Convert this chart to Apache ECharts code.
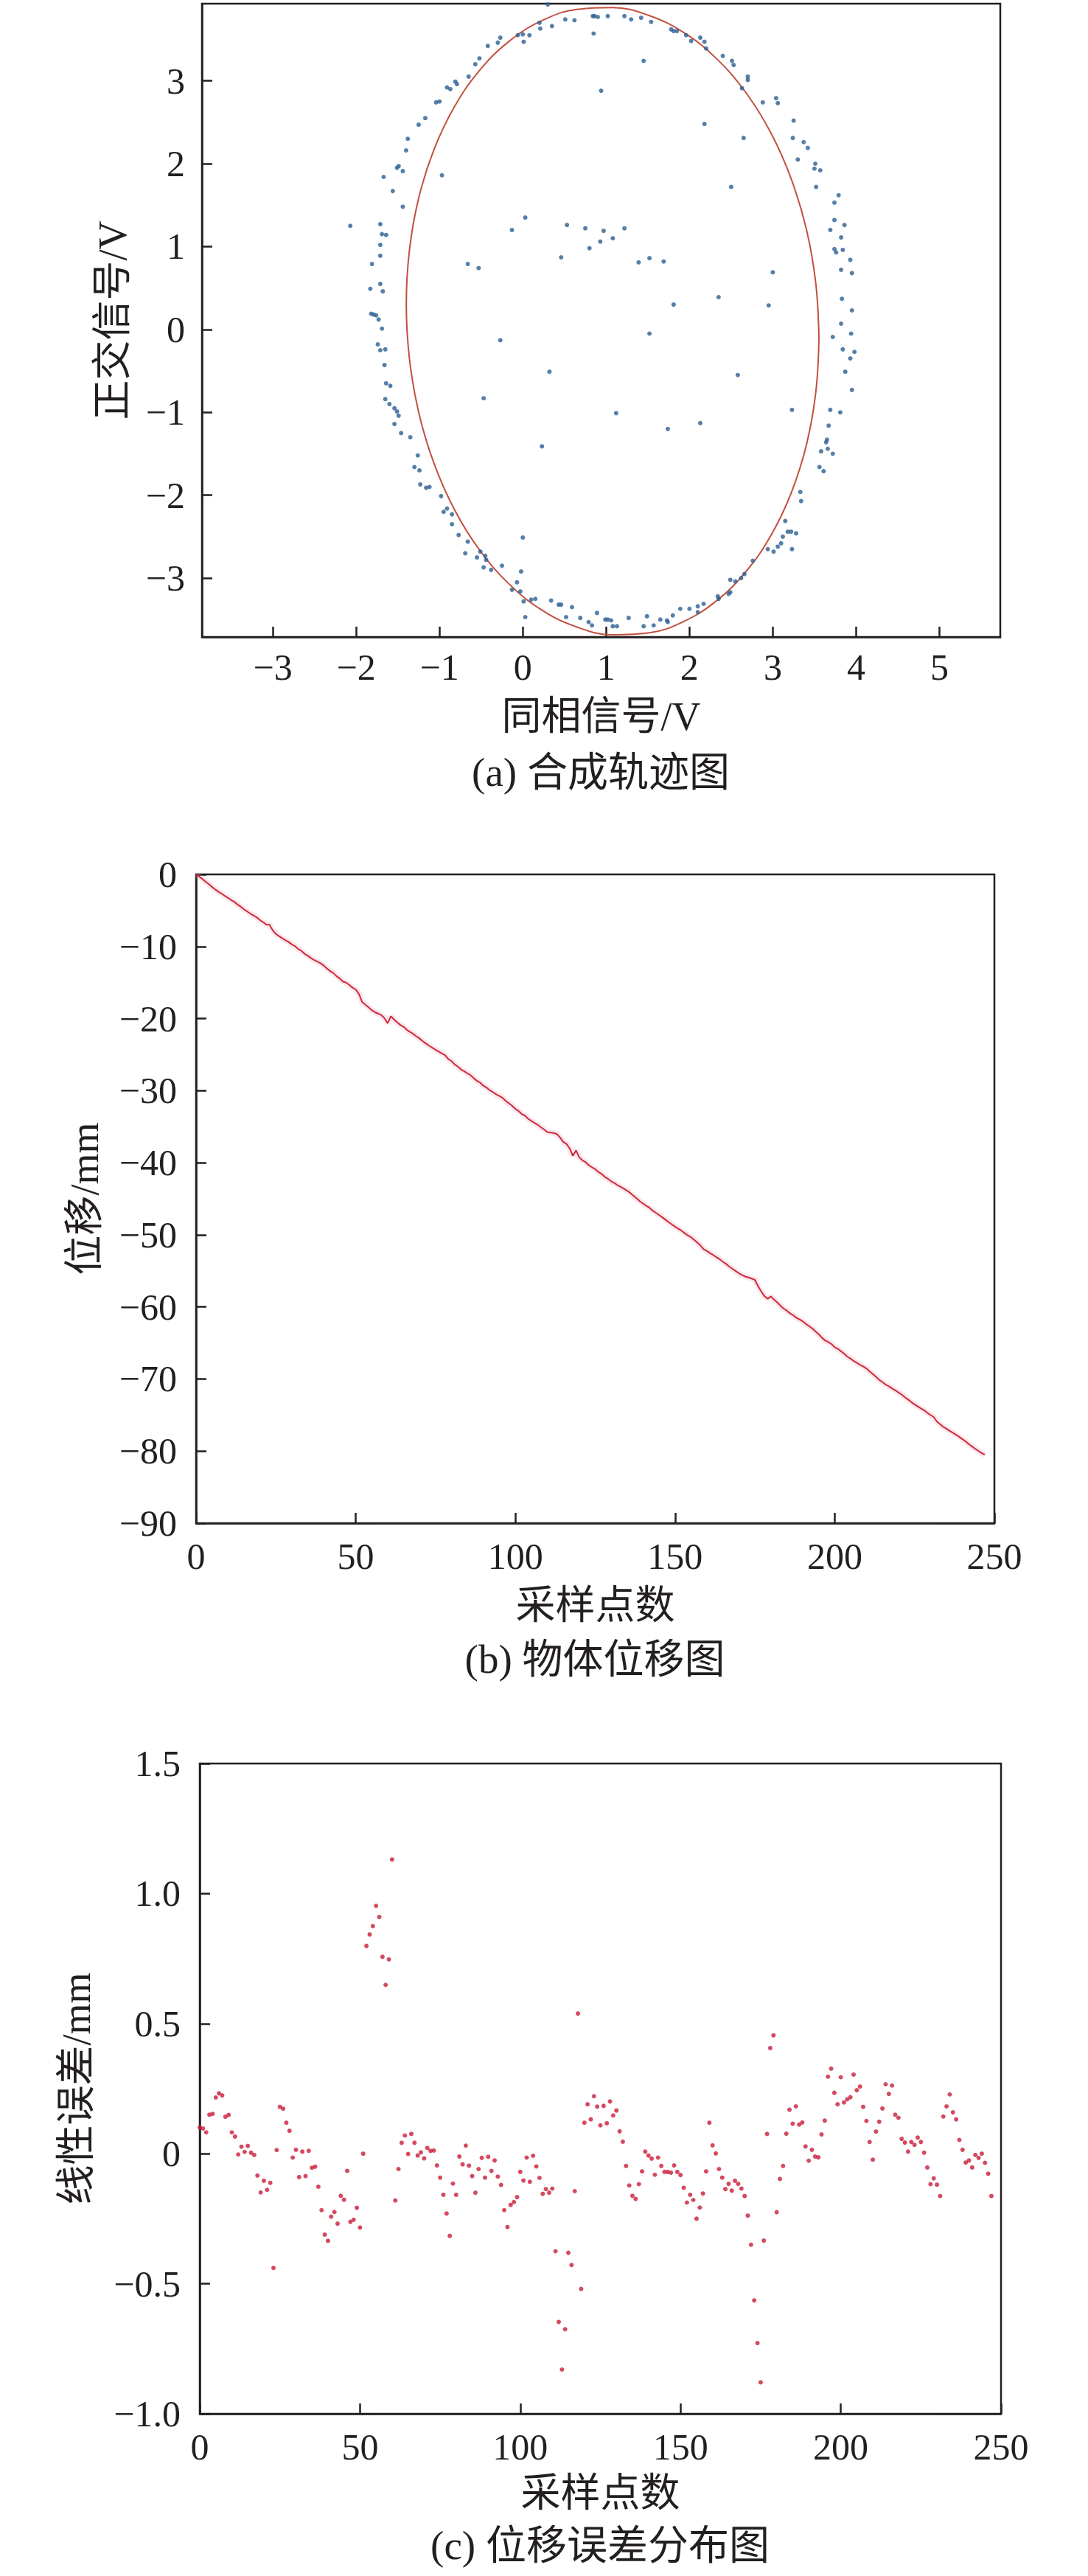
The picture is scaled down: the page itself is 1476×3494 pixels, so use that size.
<!DOCTYPE html>
<html>
<head>
<meta charset="utf-8">
<script src="https://cdn.jsdelivr.net/npm/echarts@6/dist/echarts.min.js"></script>
<style>
html,body{margin:0;padding:0;background:#fff;}
#chart{width:1476px;height:3494px;}
</style>
</head>
<body>
<div id="chart"></div>
<script>
// ---------- (a) Lissajous trajectory: in-phase (x) / quadrature (y) samples ----------
const inPhase = [
0.30,0.51,0.62,0.35,0.20,0.21,0.08,0.00,-0.06,0.01,-0.27,-0.30,-0.42,-0.52,-0.57,-0.65,-0.81,-0.79,-0.91,-0.87,
-1.00,-1.04,-1.17,-1.25,-1.38,-1.40,-1.49,-1.51,-1.44,-1.67,-0.97,-1.56,-1.44,-2.07,-1.71,-1.69,-1.64,-1.71,-1.71,-1.81,
-1.71,-1.83,-1.68,-1.82,-1.79,-1.76,-1.73,-1.69,-1.74,-1.71,-1.65,-1.66,-1.64,-1.59,-1.65,-1.60,-1.54,-1.51,-1.49,-1.54,
-1.46,-1.35,0.03,-0.13,0.53,0.46,-0.66,-0.53,-0.27,0.32,-0.47,
0.84,0.86,0.90,1.02,1.22,1.30,1.42,1.54,0.85,1.78,1.81,1.85,1.96,2.02,2.13,2.18,2.20,2.40,2.51,2.53,
2.70,2.70,2.63,2.88,3.04,3.06,1.45,0.94,3.25,2.18,2.65,3.24,3.37,3.42,3.30,3.51,3.50,3.57,3.52,2.50,
3.79,3.74,3.74,3.86,3.69,3.82,3.74,3.76,3.84,3.93,3.82,3.95,3.00,3.83,3.95,3.82,3.72,3.94,3.84,3.98,
3.93,3.87,3.95,3.69,3.81,3.67,3.65,
0.75,0.97,1.22,0.93,1.08,0.80,1.39,1.52,1.69,2.35,1.81,2.95,1.52,2.58,3.23,1.12,2.13,1.74,
0.23,-1.26,-1.30,-1.24,-1.23,-1.16,-1.12,-0.98,-0.95,-0.91,-0.85,-0.85,-0.77,-0.66,0.00,-0.69,-0.55,-0.51,-0.45,-0.44,
-0.47,-0.38,-0.25,-0.02,-0.07,-0.13,-0.03,0.01,0.10,0.15,0.03,0.34,0.43,0.46,0.59,0.52,0.69,
3.64,3.58,3.66,3.72,3.56,3.61,3.33,3.34,3.15,3.18,3.22,3.28,3.12,3.10,3.06,3.23,3.01,2.94,2.76,2.66,
2.62,2.55,2.49,2.49,2.47,2.34,2.35,2.17,2.10,2.10,2.00,1.89,1.80,1.73,1.74,1.65,1.57,1.49,1.45,1.27,
1.13,1.08,1.06,1.02,0.99,0.89,0.83,0.79
];
const quadrature = [
3.92,3.74,3.73,3.66,3.70,3.63,3.55,3.56,3.55,3.47,3.52,3.46,3.42,3.27,3.20,3.05,2.99,2.96,2.92,2.90,
2.75,2.74,2.55,2.47,2.30,2.16,1.97,1.95,1.91,1.84,1.86,1.67,1.48,1.25,1.27,1.15,1.14,1.02,0.89,0.79,
0.55,0.49,0.46,0.19,0.18,0.17,0.12,0.01,-0.18,-0.25,-0.24,-0.43,-0.65,-0.68,-0.84,-0.90,-0.95,-0.99,-1.04,-1.14,
-1.25,-1.30,1.35,1.20,1.26,0.87,0.79,0.74,-0.13,-0.51,-0.83,
3.78,3.78,3.77,3.78,3.78,3.74,3.76,3.71,3.57,3.62,3.60,3.60,3.55,3.48,3.52,3.47,3.39,3.30,3.24,3.19,
3.05,3.01,2.91,2.74,2.79,2.73,3.24,2.88,2.52,2.48,2.31,2.31,2.26,2.19,2.05,2.00,1.94,1.92,1.72,1.72,
1.62,1.53,1.32,1.26,1.20,1.11,0.97,0.93,0.96,0.84,0.72,0.68,0.69,0.37,0.23,0.07,-0.09,-0.05,-0.24,-0.27,
-0.35,-0.51,-0.73,-0.97,-1.00,-1.16,-1.33,
1.22,1.19,1.22,1.06,1.10,0.98,0.81,0.86,0.82,0.39,0.30,0.29,-0.05,-0.55,-0.97,-1.01,-1.13,-1.20,
-1.41,-1.52,-1.66,-1.70,-1.87,-1.91,-1.90,-2.01,-2.20,-2.16,-2.23,-2.35,-2.48,-2.56,-2.51,-2.70,-2.75,-2.68,-2.73,-2.78,
-2.87,-2.90,-2.85,-2.92,-3.05,-3.14,-3.16,-3.28,-3.26,-3.25,-3.47,-3.27,-3.32,-3.32,-3.35,-3.47,-3.48,
-1.36,-1.47,-1.44,-1.50,-1.66,-1.71,-1.96,-2.07,-2.31,-2.44,-2.44,-2.46,-2.50,-2.58,-2.62,-2.65,-2.68,-2.65,-2.79,-2.95,
-3.00,-3.04,-3.02,-3.17,-3.19,-3.22,-3.25,-3.31,-3.34,-3.41,-3.37,-3.37,-3.45,-3.51,-3.53,-3.50,-3.57,-3.46,-3.58,-3.48,
-3.58,-3.58,-3.51,-3.50,-3.50,-3.42,-3.57,-3.53
];
// fitted ellipse, points
const ellipseX = [3.554,3.516,3.405,3.222,2.975,2.670,2.316,1.925,1.508,1.078,0.648,0.231,-0.160,-0.514,-0.819,-1.066,-1.249,-1.360,-1.398,-1.360,-1.249,-1.066,-0.819,-0.514,-0.160,0.231,0.648,1.078,1.508,1.925,2.316,2.670,2.975,3.222,3.405,3.516,3.554];
const ellipseY = [-0.105,0.555,1.201,1.814,2.375,2.867,3.275,3.586,3.790,3.884,3.862,3.726,3.480,3.131,2.689,2.170,1.587,0.959,0.305,-0.355,-1.001,-1.614,-2.175,-2.667,-3.075,-3.386,-3.590,-3.684,-3.662,-3.526,-3.280,-2.931,-2.489,-1.970,-1.387,-0.759,-0.105];
const ticksA_X = [-3,-2,-1,0,1,2,3,4,5];
const ticksA_Y = [-3,-2,-1,0,1,2,3];

// ---------- (b) displacement per sample (mm) ----------
const displacement = [
-0.00,-0.32,-0.64,-1.03,-1.36,-1.75,-2.09,-2.41,-2.66,-2.99,
-3.25,-3.56,-3.82,-4.18,-4.49,-4.84,-5.14,-5.45,-5.70,-5.96,
-6.34,-6.63,-6.98,-6.98,-7.76,-8.26,-8.58,-8.85,-9.14,-9.37,
-9.73,-9.95,-10.37,-10.61,-11.03,-11.29,-11.62,-11.87,-12.11,-12.34,
-12.65,-13.07,-13.41,-13.69,-14.13,-14.44,-14.88,-15.01,-15.34,-15.72,
-15.97,-16.58,-17.70,-18.07,-18.43,-18.84,-19.12,-19.30,-19.52,-19.94,
-20.65,-19.67,-20.12,-20.54,-20.90,-21.15,-21.56,-21.85,-22.13,-22.47,
-22.77,-23.14,-23.46,-23.78,-24.05,-24.33,-24.59,-24.85,-25.09,-25.62,
-25.90,-26.38,-26.67,-27.07,-27.32,-27.61,-27.87,-28.29,-28.66,-28.91,
-29.32,-29.59,-29.96,-30.22,-30.52,-30.75,-31.01,-31.42,-31.76,-32.11,
-32.53,-32.82,-33.24,-33.47,-33.90,-34.19,-34.47,-34.74,-35.08,-35.39,
-35.74,-35.82,-35.88,-36.02,-36.50,-37.12,-37.40,-38.02,-39.03,-38.29,
-39.26,-39.66,-39.93,-40.34,-40.63,-40.88,-41.29,-41.55,-41.96,-42.23,
-42.58,-42.82,-43.11,-43.34,-43.60,-43.88,-44.20,-44.58,-44.96,-45.36,
-45.67,-45.99,-46.25,-46.65,-46.94,-47.25,-47.57,-47.90,-48.25,-48.55,
-48.87,-49.15,-49.42,-49.77,-50.08,-50.34,-50.71,-51.09,-51.50,-52.01,
-52.25,-52.55,-52.82,-53.11,-53.39,-53.74,-54.04,-54.41,-54.72,-55.03,
-55.33,-55.58,-55.79,-55.91,-56.07,-56.25,-57.12,-57.86,-58.51,-58.89,
-58.54,-58.99,-59.37,-59.82,-60.24,-60.51,-60.90,-61.16,-61.50,-61.73,
-62.00,-62.37,-62.67,-63.00,-63.41,-63.79,-64.29,-64.65,-64.88,-65.16,
-65.59,-65.82,-66.16,-66.50,-66.91,-67.18,-67.52,-67.77,-68.04,-68.29,
-68.55,-68.98,-69.35,-69.73,-70.15,-70.44,-70.79,-71.01,-71.32,-71.57,
-71.88,-72.18,-72.54,-72.86,-73.21,-73.52,-73.81,-74.08,-74.34,-74.69,
-74.99,-75.27,-75.91,-76.27,-76.65,-76.90,-77.20,-77.45,-77.74,-78.02,
-78.35,-78.65,-79.03,-79.35,-79.69,-79.98,-80.27,-80.51
];

// ---------- (c) linearity error per sample (mm) ----------
const linearError = [
0.101,0.097,0.082,0.150,0.153,0.216,0.232,0.224,0.142,0.149,
0.082,0.066,-0.003,0.027,0.007,0.030,0.004,-0.005,-0.084,-0.149,
-0.104,-0.139,-0.112,-0.439,0.014,0.180,0.173,0.119,0.088,-0.015,
0.015,-0.090,0.008,-0.086,0.011,-0.054,-0.050,-0.127,-0.217,-0.311,
-0.335,-0.242,-0.224,-0.269,-0.162,-0.177,-0.066,-0.262,-0.254,-0.208,
-0.284,0.000,0.799,0.843,0.875,0.953,0.910,0.757,0.649,0.747,
1.131,-0.180,-0.059,0.042,0.070,-0.001,0.076,0.042,-0.007,0.005,
-0.018,0.022,0.011,0.012,-0.045,-0.092,-0.158,-0.230,-0.316,-0.115,
-0.158,-0.011,-0.041,0.031,-0.046,-0.086,-0.150,-0.059,-0.016,-0.092,
-0.012,-0.066,-0.026,-0.088,-0.120,-0.217,-0.282,-0.197,-0.186,-0.167,
-0.070,-0.103,-0.015,-0.108,-0.008,-0.049,-0.093,-0.154,-0.136,-0.150,
-0.134,-0.375,-0.647,-0.830,-0.675,-0.381,-0.428,-0.144,0.539,-0.520,
0.119,0.190,0.132,0.221,0.181,0.109,0.184,0.117,0.201,0.147,
0.166,0.086,0.046,-0.047,-0.122,-0.162,-0.174,-0.117,-0.068,0.008,
-0.007,-0.019,-0.081,-0.015,-0.047,-0.070,-0.070,-0.073,-0.045,-0.070,
-0.082,-0.131,-0.188,-0.158,-0.178,-0.250,-0.207,-0.153,-0.068,0.119,
0.032,0.001,-0.059,-0.092,-0.136,-0.116,-0.142,-0.104,-0.116,-0.134,
-0.163,-0.238,-0.350,-0.564,-0.728,-0.879,-0.334,0.076,0.406,0.455,
-0.225,-0.097,-0.047,0.077,0.169,0.115,0.182,0.112,0.120,0.028,
-0.027,0.015,-0.011,-0.014,0.074,0.127,0.296,0.327,0.234,0.190,
0.294,0.197,0.209,0.217,0.304,0.244,0.258,0.180,0.126,0.045,
-0.023,0.085,0.123,0.174,0.267,0.230,0.262,0.150,0.138,0.057,
0.043,0.008,0.045,0.034,0.062,0.045,0.004,-0.053,-0.117,-0.095,
-0.119,-0.163,0.143,0.182,0.228,0.159,0.132,0.053,0.015,-0.034,
-0.026,-0.053,-0.005,-0.016,0.000,-0.035,-0.077,-0.163
];

const FONT = 'Liberation Serif, Times New Roman, Noto Sans CJK SC, serif';
const INK = '#231f20';
const minus = s => s.replace('-', '\u2212');
const fmtInt = v => minus(String(v));
const fmt1 = v => v === 0 ? '0' : minus(v.toFixed(1));

const pairs = (xs, ys) => xs.map((x, i) => [x, ys[i]]);
const indexed = ys => ys.map((y, i) => [i, y]);

function axisCommon() {
  return {
    type: 'value',
    axisLine: { show: true, onZero: false, lineStyle: { color: INK, width: 2.5 } },
    axisTick: { show: true, inside: true, length: 14, lineStyle: { color: INK, width: 2.5 } },
    splitLine: { show: false },
    axisLabel: { color: INK, fontSize: 50, fontFamily: FONT },
    nameLocation: 'middle',
    nameTextStyle: { color: INK, fontSize: 54, fontFamily: FONT }
  };
}
function merge(a, b) {
  const o = Object.assign({}, a);
  for (const k in b) {
    if (b[k] && typeof b[k] === 'object' && !Array.isArray(b[k]) && a[k]) o[k] = Object.assign({}, a[k], b[k]);
    else o[k] = b[k];
  }
  return o;
}

const chart = echarts.init(document.getElementById('chart'), null, { renderer: 'svg' });
const gridStyle = { show: true, borderColor: INK, borderWidth: 2.5, backgroundColor: 'transparent', containLabel: false };

chart.setOption({
  animation: false,
  backgroundColor: '#ffffff',
  grid: [
    Object.assign({ left: 274, top: 5, width: 1083, height: 859 }, gridStyle),
    Object.assign({ left: 266, top: 1186, width: 1083, height: 880 }, gridStyle),
    Object.assign({ left: 271, top: 2392, width: 1087, height: 882 }, gridStyle)
  ],
  xAxis: [
    merge(axisCommon(), {
      gridIndex: 0, min: -3.85, max: 5.73,
      axisTick: { customValues: ticksA_X },
      axisLabel: { customValues: ticksA_X, formatter: fmtInt, margin: 16 },
      name: '同相信号/V', nameGap: 81
    }),
    merge(axisCommon(), {
      gridIndex: 1, min: 0, max: 250, interval: 50,
      axisLabel: { formatter: fmtInt, margin: 20 },
      name: '采样点数', nameGap: 85
    }),
    merge(axisCommon(), {
      gridIndex: 2, min: 0, max: 250, interval: 50,
      axisLabel: { formatter: fmtInt, margin: 20 },
      name: '采样点数', nameGap: 81
    })
  ],
  yAxis: [
    merge(axisCommon(), {
      gridIndex: 0, min: -3.71, max: 3.93,
      axisTick: { customValues: ticksA_Y },
      axisLabel: { customValues: ticksA_Y, formatter: fmtInt, margin: 23 },
      name: '正交信号/V', nameGap: 94
    }),
    merge(axisCommon(), {
      gridIndex: 1, min: -90, max: 0, interval: 10,
      axisLabel: { formatter: fmtInt, margin: 26 },
      name: '位移/mm', nameGap: 124
    }),
    merge(axisCommon(), {
      gridIndex: 2, min: -1, max: 1.5, interval: 0.5,
      axisLabel: { formatter: fmt1, margin: 26 },
      name: '线性误差/mm', nameGap: 140
    })
  ],
  series: [
    {
      type: 'line', xAxisIndex: 0, yAxisIndex: 0,
      data: pairs(ellipseX, ellipseY),
      showSymbol: false, symbol: 'none', smooth: 0.4,
      lineStyle: { color: '#c2503f', width: 2 }, z: 2
    },
    {
      type: 'scatter', xAxisIndex: 0, yAxisIndex: 0,
      data: pairs(inPhase, quadrature),
      symbolSize: 6, itemStyle: { color: '#2a5f92' }, z: 3
    },
    {
      type: 'line', xAxisIndex: 1, yAxisIndex: 1,
      data: indexed(displacement),
      showSymbol: false, symbol: 'none',
      lineStyle: { color: 'rgba(232,150,165,0.22)', width: 8 }, z: 1
    },
    {
      type: 'line', xAxisIndex: 1, yAxisIndex: 1,
      data: indexed(displacement),
      showSymbol: false, symbol: 'none',
      lineStyle: { color: '#d0283f', width: 2 }, z: 2
    },
    {
      type: 'scatter', xAxisIndex: 2, yAxisIndex: 2,
      data: indexed(linearError),
      symbolSize: 6, itemStyle: { color: '#c81d3a' }, z: 3
    }
  ],
  graphic: [
    { type: 'text', x: 815, y: 1047, style: { text: '(a) 合成轨迹图', fontSize: 55, fontFamily: FONT, fill: INK, align: 'center', verticalAlign: 'middle' } },
    { type: 'text', x: 807, y: 2250, style: { text: '(b) 物体位移图', fontSize: 55, fontFamily: FONT, fill: INK, align: 'center', verticalAlign: 'middle' } },
    { type: 'text', x: 814, y: 3452, style: { text: '(c) 位移误差分布图', fontSize: 55, fontFamily: FONT, fill: INK, align: 'center', verticalAlign: 'middle' } }
  ]
});
</script>
</body>
</html>
